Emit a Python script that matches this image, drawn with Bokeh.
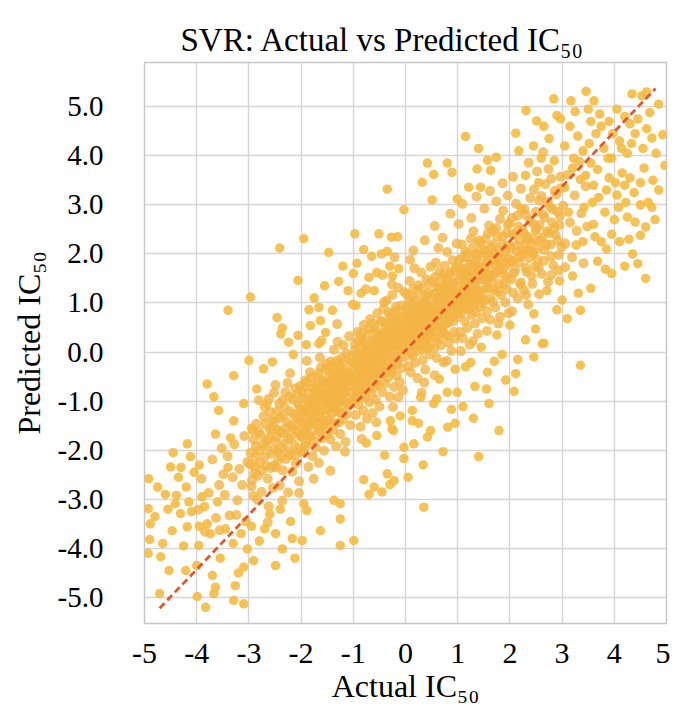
from bokeh.plotting import figure
from bokeh.models import Range1d, FixedTicker
from bokeh.embed import file_html
from bokeh.resources import INLINE

# ---------------- data ----------------
title_text = "SVR: Actual vs Predicted IC\u2085\u2080"
x_label = "Actual IC\u2085\u2080"
y_label = "Predicted IC\u2085\u2080"

x_ticks = [-5, -4, -3, -2, -1, 0, 1, 2, 3, 4, 5]
x_tick_labels = ["-5", "-4", "-3", "-2", "-1", "0", "1", "2", "3", "4", "5"]
y_ticks = [-5, -4, -3, -2, -1, 0, 1, 2, 3, 4, 5]
y_tick_labels = ["-5.0", "-4.0", "-3.0", "-2.0", "-1.0", "0.0", "1.0", "2.0", "3.0", "4.0", "5.0"]

# ideal-fit reference line (as drawn)
fit_x = [-4.71, 4.79]
fit_y = [-5.22, 5.37]

# dense band of points (actual, predicted)
core_points = [
    (-3.97, -3.21), (-3.91, -2.58), (-3.84, -3.66), (-3.77, -2.87), (-3.70, -2.19), (-3.63, -3.38), (-3.57, -2.71), (-3.52, -1.96),
    (-3.46, -2.91), (-3.41, -2.12), (-3.37, -3.33), (-3.31, -2.55), (-3.28, -1.88), (-3.22, -3.02), (-3.18, -2.38), (-3.13, -2.71),
    (-3.09, -1.71), (-3.06, -3.45), (-3.03, -2.24), (-3.49, -2.49),
    (-2.98, -2.29), (-2.95, -2.74), (-2.93, -1.59), (-2.90, -2.47), (-2.87, -1.92), (-2.84, -3.01), (-2.81, -1.63), (-2.79, -2.25),
    (-2.76, -2.85), (-2.73, -1.88), (-2.70, -1.12), (-2.67, -2.31), (-2.65, -1.79), (-2.62, -3.14), (-2.60, -1.56), (-2.58, -2.36),
    (-2.56, -1.39), (-2.54, -2.77), (-2.52, -0.83), (-2.51, -1.99), (-2.88, -2.13), (-2.69, -1.47),
    (-2.49, -1.82), (-2.48, -2.35), (-2.46, -1.21), (-2.45, -2.03), (-2.43, -1.58), (-2.41, -2.72), (-2.40, -1.34), (-2.38, -1.95),
    (-2.36, -0.98), (-2.35, -2.41), (-2.33, -1.66), (-2.31, -1.12), (-2.29, -2.18), (-2.27, -1.43), (-2.25, -2.86), (-2.24, -1.77),
    (-2.22, -0.91), (-2.20, -2.09), (-2.18, -1.52), (-2.17, -2.44), (-2.15, -1.26), (-2.13, -1.89), (-2.11, -0.74), (-2.10, -2.27),
    (-2.08, -1.61), (-2.06, -1.05), (-2.05, -1.98), (-2.04, -2.63), (-2.03, -1.35), (-2.02, -0.69), (-2.01, -1.72), (-2.26, -0.63),
    (-1.99, -1.44), (-1.98, -0.82), (-1.96, -2.05), (-1.95, -1.17), (-1.93, -1.63), (-1.92, -0.58), (-1.90, -1.91), (-1.89, -1.29),
    (-1.87, -0.97), (-1.86, -2.34), (-1.84, -1.48), (-1.83, -0.41), (-1.81, -1.72), (-1.80, -1.05), (-1.78, -2.12), (-1.77, -0.73),
    (-1.75, -1.36), (-1.74, -0.88), (-1.72, -1.94), (-1.71, -1.21), (-1.69, -0.52), (-1.68, -1.57), (-1.66, -2.26), (-1.65, -0.99),
    (-1.63, -1.33), (-1.62, -0.31), (-1.60, -1.76), (-1.59, -0.84), (-1.57, -1.18), (-1.56, -2.01), (-1.55, -0.62), (-1.54, -1.42),
    (-1.53, -0.95), (-1.52, -1.69), (-1.51, -0.24), (-1.97, -1.66), (-1.85, -1.12), (-1.70, -0.69), (-1.58, -1.49), (-1.64, -0.11),
    (-1.49, -0.86), (-1.48, -1.41), (-1.47, -0.33), (-1.46, -1.07), (-1.45, -0.61), (-1.44, -1.78), (-1.43, -0.19), (-1.42, -0.94),
    (-1.41, -1.25), (-1.40, -0.48), (-1.39, -1.59), (-1.38, -0.72), (-1.37, 0.05), (-1.36, -1.13), (-1.35, -0.39), (-1.34, -0.87),
    (-1.33, -1.92), (-1.32, -0.55), (-1.31, -1.21), (-1.30, 0.21), (-1.29, -0.78), (-1.28, -1.44), (-1.27, -0.27), (-1.26, -0.99),
    (-1.25, -1.67), (-1.24, -0.46), (-1.23, -0.12), (-1.22, -1.16), (-1.21, -0.65), (-1.20, -1.38), (-1.19, 0.14), (-1.18, -0.84),
    (-1.17, -0.36), (-1.16, -1.02), (-1.15, -1.83), (-1.14, -0.58), (-1.13, -0.03), (-1.12, -1.27), (-1.11, -0.71), (-1.10, -0.41),
    (-1.09, -1.05), (-1.08, 0.32), (-1.07, -0.53), (-1.06, -1.49), (-1.04, -0.22), (-1.02, -0.91),
    (-0.99, -0.37), (-0.98, -0.95), (-0.97, 0.16), (-0.96, -0.61), (-0.95, -1.28), (-0.94, -0.12), (-0.93, -0.79), (-0.92, 0.41),
    (-0.91, -0.44), (-0.90, -1.07), (-0.89, -0.23), (-0.88, 0.08), (-0.87, -0.68), (-0.86, -1.52), (-0.85, -0.31), (-0.84, 0.27),
    (-0.83, -0.86), (-0.82, -0.05), (-0.81, -1.19), (-0.80, 0.55), (-0.79, -0.47), (-0.78, -0.18), (-0.77, -0.93), (-0.76, 0.12),
    (-0.75, -0.64), (-0.74, -1.36), (-0.73, -0.28), (-0.72, 0.36), (-0.71, -0.76), (-0.70, -0.09), (-0.69, -1.02), (-0.68, 0.67),
    (-0.67, -0.39), (-0.66, -0.15), (-0.65, -0.83), (-0.64, 0.22), (-0.63, -1.24), (-0.62, -0.52), (-0.61, 0.03), (-0.60, -0.71),
    (-0.59, 0.48), (-0.58, -0.26), (-0.57, -0.97), (-0.56, 0.15), (-0.55, -0.43), (-0.54, 0.79), (-0.53, -0.12), (-0.52, -0.66),
    (-0.51, 0.31), (-0.50, -1.11),
    (-0.49, 0.12), (-0.48, -0.46), (-0.47, 0.63), (-0.46, -0.18), (-0.45, 0.35), (-0.44, -0.82), (-0.43, 0.04), (-0.42, 0.88),
    (-0.41, -0.31), (-0.40, 0.27), (-0.39, -0.64), (-0.38, 0.51), (-0.37, -0.07), (-0.36, 1.05), (-0.35, 0.19), (-0.34, -0.53),
    (-0.33, 0.42), (-0.32, -0.21), (-0.31, 0.74), (-0.30, -0.91), (-0.29, 0.09), (-0.28, 0.58), (-0.27, -0.36), (-0.26, 0.31),
    (-0.25, 1.17), (-0.24, -0.12), (-0.23, 0.47), (-0.22, -0.71), (-0.21, 0.16), (-0.20, 0.83), (-0.19, -0.27), (-0.18, 0.39),
    (-0.17, -0.48), (-0.16, 0.66), (-0.15, 0.02), (-0.14, 1.31), (-0.13, -0.15), (-0.12, 0.55), (-0.11, -0.61), (-0.10, 0.24),
    (-0.09, 0.95), (-0.08, -0.33), (-0.07, 0.43), (-0.06, 0.11), (-0.05, -0.78), (-0.04, 0.72), (-0.03, 0.29), (-0.02, 1.22),
    (-0.01, -0.09), (-0.26, 1.38), (-0.14, -0.92), (-0.41, 1.02),
    (0.01, 0.61), (0.02, 0.03), (0.03, 1.18), (0.04, 0.37), (0.05, -0.29), (0.06, 0.84), (0.07, 0.12), (0.08, 1.45),
    (0.09, 0.52), (0.10, -0.41), (0.11, 0.96), (0.12, 0.23), (0.13, 0.71), (0.14, -0.08), (0.15, 1.29), (0.16, 0.44),
    (0.17, 0.89), (0.18, -0.22), (0.19, 0.58), (0.20, 1.07), (0.21, 0.15), (0.22, 0.77), (0.23, -0.53), (0.24, 0.35),
    (0.25, 1.36), (0.26, 0.64), (0.27, 0.02), (0.28, 0.93), (0.29, 0.41), (0.30, 1.62), (0.31, 0.19), (0.32, 0.82),
    (0.33, -0.17), (0.34, 0.55), (0.35, 1.14), (0.36, 0.31), (0.37, 0.99), (0.38, -0.36), (0.39, 0.68), (0.40, 1.48),
    (0.41, 0.26), (0.42, 0.87), (0.43, 0.09), (0.44, 1.21), (0.45, 0.49), (0.46, -0.05), (0.47, 0.76), (0.48, 1.74),
    (0.49, 0.38), (0.17, 1.71), (0.36, -0.62), (0.09, 1.88),
    (0.51, 0.92), (0.52, 0.31), (0.53, 1.44), (0.54, 0.67), (0.55, 0.08), (0.56, 1.19), (0.57, 0.53), (0.58, 1.82),
    (0.59, 0.84), (0.60, -0.12), (0.61, 1.31), (0.62, 0.61), (0.63, 1.06), (0.64, 0.25), (0.65, 1.63), (0.66, 0.79),
    (0.67, 1.27), (0.68, 0.14), (0.69, 0.97), (0.70, 1.51), (0.71, 0.45), (0.72, 1.13), (0.73, -0.21), (0.74, 0.73),
    (0.75, 1.76), (0.76, 1.02), (0.77, 0.36), (0.78, 1.38), (0.79, 0.88), (0.80, 2.04), (0.81, 0.59), (0.82, 1.22),
    (0.83, 0.19), (0.84, 0.95), (0.85, 1.58), (0.86, 0.71), (0.87, 1.35), (0.88, 0.02), (0.89, 1.09), (0.90, 1.87),
    (0.91, 0.63), (0.92, 1.25), (0.93, 0.41), (0.94, 1.66), (0.95, 0.91), (0.96, 0.28), (0.97, 1.17), (0.98, 2.21),
    (0.99, 0.79), (0.63, 2.12),
    (1.01, 1.31), (1.02, 0.72), (1.03, 1.88), (1.04, 1.05), (1.05, 0.41), (1.06, 1.57), (1.07, 0.94), (1.08, 2.19),
    (1.09, 1.23), (1.10, 0.28), (1.11, 1.71), (1.12, 1.02), (1.13, 1.46), (1.14, 0.63), (1.15, 2.05), (1.16, 1.18),
    (1.17, 1.64), (1.18, 0.49), (1.19, 1.36), (1.20, 1.93), (1.21, 0.87), (1.22, 1.52), (1.23, 0.15), (1.24, 1.12),
    (1.25, 2.31), (1.26, 1.41), (1.27, 0.76), (1.28, 1.79), (1.29, 1.27), (1.30, 2.46), (1.31, 0.98), (1.32, 1.61),
    (1.33, 0.58), (1.34, 1.33), (1.35, 1.99), (1.36, 1.09), (1.37, 1.74), (1.38, 0.37), (1.39, 1.48), (1.40, 2.27),
    (1.42, 0.92), (1.43, 1.66), (1.45, 1.21), (1.46, 2.09), (1.47, 0.69), (1.49, 1.55),
    (1.51, 1.72), (1.52, 1.07), (1.53, 2.31), (1.55, 1.44), (1.56, 0.83), (1.57, 1.98), (1.58, 1.29), (1.60, 2.58),
    (1.61, 1.63), (1.62, 0.66), (1.63, 2.14), (1.65, 1.41), (1.66, 1.87), (1.67, 1.02), (1.68, 2.47), (1.70, 1.56),
    (1.71, 2.03), (1.72, 0.91), (1.73, 1.78), (1.75, 2.36), (1.76, 1.23), (1.77, 1.94), (1.78, 0.58), (1.80, 1.67),
    (1.81, 2.71), (1.82, 1.83), (1.83, 1.16), (1.85, 2.21), (1.86, 1.69), (1.87, 2.88), (1.88, 1.38), (1.90, 2.04),
    (1.91, 1.01), (1.92, 1.76), (1.93, 2.42), (1.95, 1.52), (1.96, 2.17), (1.97, 0.79), (1.98, 1.91), (1.99, 2.63),
    (2.01, 2.12), (2.03, 1.48), (2.04, 2.73), (2.06, 1.86), (2.07, 1.21), (2.09, 2.39), (2.10, 1.67), (2.12, 3.02),
    (2.13, 2.05), (2.15, 1.09), (2.16, 2.56), (2.18, 1.83), (2.19, 2.28), (2.21, 1.42), (2.22, 2.91), (2.24, 1.98),
    (2.26, 2.44), (2.27, 1.26), (2.29, 2.17), (2.31, 2.79), (2.32, 1.63), (2.34, 2.35), (2.35, 0.97), (2.37, 2.06),
    (2.39, 3.14), (2.40, 2.23), (2.42, 1.55), (2.44, 2.62), (2.45, 2.01), (2.46, 3.31), (2.48, 1.74), (2.49, 2.47),
    (2.51, 2.52), (2.53, 1.88), (2.56, 3.09), (2.58, 2.27), (2.61, 1.59), (2.63, 2.81), (2.66, 2.08), (2.68, 3.42),
    (2.71, 2.46), (2.73, 1.43), (2.76, 2.97), (2.78, 2.19), (2.81, 2.64), (2.83, 1.77), (2.86, 3.28), (2.88, 2.38),
    (2.91, 2.86), (2.93, 1.66), (2.95, 2.59), (2.97, 3.57), (2.99, 2.14), (2.74, 3.73),
    (3.02, 2.98), (3.06, 2.21), (3.11, 3.61), (3.15, 2.64), (3.19, 1.93), (3.24, 3.19), (3.28, 2.47), (3.33, 3.88),
    (3.37, 2.83), (3.41, 1.81), (3.45, 3.38), (3.48, 2.56),
    # inner, denser part of the band
    (-2.97, -2.05), (-2.94, -2.61), (-2.91, -1.78), (-2.89, -2.33), (-2.86, -1.46), (-2.83, -2.52), (-2.80, -2.01), (-2.78, -1.69),
    (-2.75, -2.42), (-2.72, -1.31), (-2.69, -2.12), (-2.66, -1.92), (-2.64, -2.58), (-2.61, -1.74), (-2.59, -1.22), (-2.57, -2.07),
    (-2.55, -1.58), (-2.53, -2.31), (-2.50, -1.41), (-2.47, -1.73), (-2.44, -2.21), (-2.42, -1.05), (-2.39, -1.62), (-2.37, -2.13),
    (-2.34, -1.29), (-2.32, -1.87), (-2.30, -0.82), (-2.28, -1.54), (-2.23, -2.03), (-2.21, -1.21), (-2.19, -1.71), (-2.16, -0.97),
    (-2.14, -1.48), (-2.12, -2.11), (-2.09, -1.33), (-2.07, -0.85), (-2.05, -1.64), (-2.03, -1.12), (-2.01, -2.01), (-2.62, -0.95),
    (-1.995, -1.18), (-1.98, -1.72), (-1.965, -0.93), (-1.95, -1.45), (-1.935, -0.71), (-1.92, -1.86), (-1.905, -1.21), (-1.89, -0.62),
    (-1.875, -1.53), (-1.86, -1.02), (-1.845, -0.83), (-1.83, -1.69), (-1.815, -1.26), (-1.80, -0.51), (-1.785, -1.39), (-1.77, -0.98),
    (-1.755, -1.81), (-1.74, -1.13), (-1.725, -0.66), (-1.71, -1.47), (-1.695, -0.87), (-1.68, -1.21), (-1.665, -0.43), (-1.65, -1.63),
    (-1.635, -1.04), (-1.62, -0.75), (-1.605, -1.36), (-1.59, -0.58), (-1.575, -0.97), (-1.56, -1.52), (-1.545, -0.82), (-1.53, -0.35),
    (-1.515, -1.19), (-1.50, -0.69), (-1.485, -1.04), (-1.47, -0.51), (-1.455, -1.37), (-1.44, -0.79), (-1.425, -0.28), (-1.41, -1.12),
    (-1.395, -0.62), (-1.38, -0.93), (-1.365, -1.46), (-1.35, -0.47), (-1.335, -0.76), (-1.32, -0.18), (-1.305, -1.03), (-1.29, -0.59),
    (-1.275, -0.88), (-1.26, -0.31), (-1.245, -1.24), (-1.23, -0.69), (-1.215, -0.42), (-1.20, -0.95), (-1.17, -0.17), (-1.14, -0.81),
    (-1.11, -0.48), (-1.08, -1.08), (-1.05, -0.63), (-1.03, -0.08),
    (-0.995, -0.21), (-0.98, -0.72), (-0.965, 0.05), (-0.95, -0.48), (-0.935, -0.96), (-0.92, -0.27), (-0.905, 0.24), (-0.89, -0.58),
    (-0.875, -0.11), (-0.86, -0.82), (-0.845, 0.38), (-0.83, -0.39), (-0.815, -0.03), (-0.80, -0.63), (-0.785, 0.19), (-0.77, -0.29),
    (-0.755, -0.77), (-0.74, 0.02), (-0.725, -0.47), (-0.71, 0.47), (-0.695, -0.18), (-0.68, -0.56), (-0.665, 0.11), (-0.65, -0.31),
    (-0.635, 0.58), (-0.62, -0.08), (-0.605, -0.46), (-0.59, 0.26), (-0.575, -0.21), (-0.56, -0.62), (-0.545, 0.41), (-0.53, -0.02),
    (-0.515, 0.17), (-0.50, -0.38), (-0.485, 0.33), (-0.47, -0.14), (-0.455, 0.62), (-0.44, 0.07), (-0.425, -0.45), (-0.41, 0.39),
    (-0.395, -0.02), (-0.38, 0.21), (-0.365, -0.34), (-0.35, 0.57), (-0.335, 0.08), (-0.32, 0.81), (-0.305, -0.16), (-0.29, 0.36),
    (-0.275, 0.12), (-0.26, -0.41), (-0.245, 0.68), (-0.23, 0.25), (-0.215, -0.08), (-0.20, 0.49), (-0.185, 0.92), (-0.17, 0.15),
    (-0.155, -0.22), (-0.14, 0.61), (-0.125, 0.33), (-0.11, 0.82), (-0.095, 0.04), (-0.08, 0.45), (-0.05, 0.26), (-0.025, 0.68),
    (0.005, 0.41), (0.02, 0.89), (0.035, 0.17), (0.05, 0.63), (0.065, 1.04), (0.08, 0.28), (0.095, 0.75), (0.11, -0.03),
    (0.125, 0.52), (0.14, 1.12), (0.155, 0.34), (0.17, 0.69), (0.185, 0.11), (0.20, 0.84), (0.215, 0.47), (0.23, 1.26),
    (0.245, 0.62), (0.26, 0.21), (0.275, 0.96), (0.29, 0.55), (0.305, 1.31), (0.32, 0.39), (0.335, 0.78), (0.35, 0.07),
    (0.365, 1.02), (0.38, 0.61), (0.395, 0.27), (0.41, 1.15), (0.425, 0.72), (0.44, 0.44), (0.455, 1.39), (0.47, 0.91),
    (0.485, 0.15), (0.50, 0.68), (0.515, 1.09), (0.53, 0.48), (0.545, 0.86), (0.56, 1.53), (0.575, 0.71), (0.59, 0.29),
    (0.605, 1.12), (0.62, 0.83), (0.635, 0.51), (0.65, 1.34), (0.665, 0.97), (0.68, 0.42), (0.695, 1.21), (0.71, 0.76),
    (0.725, 1.58), (0.74, 1.03), (0.755, 0.57), (0.77, 1.29), (0.785, 0.89), (0.80, 0.33), (0.815, 1.44), (0.83, 1.08),
    (0.845, 0.67), (0.86, 1.62), (0.875, 1.19), (0.89, 0.82), (0.92, 1.41), (0.945, 0.98), (0.965, 1.73), (0.985, 1.13),
    (1.005, 1.47), (1.02, 0.98), (1.035, 1.72), (1.05, 1.21), (1.065, 0.79), (1.08, 1.56), (1.095, 1.09), (1.11, 1.93),
    (1.125, 1.34), (1.14, 0.88), (1.155, 1.62), (1.17, 1.17), (1.185, 2.01), (1.20, 1.42), (1.215, 0.95), (1.23, 1.79),
    (1.245, 1.28), (1.26, 1.61), (1.275, 1.04), (1.29, 2.12), (1.305, 1.51), (1.32, 1.19), (1.335, 1.83), (1.35, 0.81),
    (1.365, 1.57), (1.38, 1.98), (1.395, 1.26), (1.41, 1.71), (1.425, 1.11), (1.44, 2.23), (1.455, 1.48), (1.47, 1.87),
    (1.485, 0.99), (1.50, 1.63), (1.52, 2.07), (1.54, 1.31), (1.56, 1.79), (1.58, 2.42), (1.60, 1.52), (1.62, 1.09),
    (1.64, 1.94), (1.66, 1.58), (1.68, 2.19), (1.70, 1.27), (1.72, 1.81), (1.74, 2.53), (1.76, 1.64), (1.78, 2.08),
    (1.80, 1.39), (1.83, 1.92), (1.86, 2.36), (1.89, 1.57), (1.92, 2.11), (1.94, 1.28), (1.96, 2.59), (1.985, 1.84),
    (2.02, 1.83), (2.05, 2.41), (2.08, 1.61), (2.11, 2.17), (2.14, 2.78), (2.17, 1.94), (2.20, 1.38), (2.23, 2.49),
    (2.25, 2.08), (2.28, 2.91), (2.30, 1.72), (2.33, 2.31), (2.36, 1.91), (2.38, 2.68), (2.41, 2.04), (2.43, 1.39),
    (2.47, 2.29), (2.50, 2.86), (2.52, 2.11), (2.55, 1.72), (2.57, 2.59), (2.60, 3.18), (2.62, 2.33), (2.65, 1.86),
    (2.67, 2.74), (2.70, 2.19), (2.72, 3.06), (2.75, 2.42), (2.79, 1.95), (2.82, 2.91), (2.85, 2.53), (2.89, 3.21),
    (2.92, 2.27), (2.94, 1.98), (2.96, 2.78), (2.98, 3.34),
    # halo around the band
    (0.15, 2.07), (0.37, 2.28), (0.56, 2.57), (0.71, 2.33), (0.86, 2.82), (1.02, 2.61), (1.09, 3.02), (1.26, 2.73),
    (1.36, 3.17), (1.51, 2.92), (1.62, 3.28), (1.74, 3.07), (1.86, 3.44), (1.96, 3.19), (2.06, 3.57), (2.21, 3.33),
    (2.36, 3.86), (2.52, 3.68), (2.64, 4.07), (2.79, 3.53), (-0.21, 1.93), (-0.44, 1.57), (-0.76, 1.28), (-1.01, 0.97),
    (-1.31, 0.57), (-1.61, 0.23), (-1.89, -0.18), (-2.21, -0.43), (-2.49, -0.67), (-2.81, -0.98),
    (0.31, -0.83), (0.56, -0.47), (0.79, -0.18), (1.06, 0.02), (1.29, 0.22), (1.56, 0.43), (1.81, 0.72), (2.04, 0.83),
    (2.31, 1.17), (2.56, 1.18), (2.79, 1.57), (3.06, 1.73), (-0.24, -1.12), (-0.56, -1.43), (-0.84, -1.77), (-1.16, -2.03),
    (-1.44, -2.42), (-1.76, -2.58), (-2.04, -2.87), (-2.36, -3.03), (-2.64, -3.47), (-2.91, -2.93), (-3.24, -3.32), (-3.56, -3.63),
]

# scattered points away from the band (actual, predicted)
outer_points = [
    (-0.35, 3.32), (-0.97, 2.41), (-0.51, 2.41), (-0.27, 2.34), (-1.95, 2.31), (-2.41, 2.12), (-1.47, 2.03), (-0.80, 2.09),
    (-0.46, 2.00), (-0.93, 1.81), (-2.06, 1.46), (-1.28, 1.44), (-2.97, 1.12), (-3.40, 0.85), (-2.46, 0.70), (-2.36, 0.49),
    (-2.39, 0.37), (-2.24, 0.20), (-2.06, 0.34), (-1.85, 0.86), (-1.66, 0.91), (-1.82, 0.54), (-1.63, 0.64), (-1.53, 0.40),
    (-1.66, 0.17), (-1.00, 1.60), (-0.70, 1.52), (-0.55, 1.62), (-0.25, 1.55), (-0.13, 1.70), (-1.10, 1.25), (-0.85, 1.20),
    (3.46, 5.31), (2.84, 5.16), (3.17, 5.12), (3.61, 5.12), (4.34, 5.26), (4.53, 5.22), (2.31, 4.92), (2.51, 4.71),
    (2.90, 4.82), (2.97, 4.75), (3.50, 4.95), (3.72, 4.85), (3.90, 4.70), (4.05, 4.95), (4.20, 4.80), (4.30, 4.65),
    (4.68, 4.88), (4.93, 4.43), (4.97, 3.80), (4.72, 4.36), (1.15, 4.39), (1.40, 4.15), (2.11, 4.46), (2.17, 4.10),
    (1.74, 3.97), (1.57, 3.91), (0.42, 3.85), (0.80, 3.85), (0.54, 3.62), (0.89, 3.66), (0.32, 3.46), (0.51, 3.10),
    (-0.03, 2.90), (0.99, 3.12), (1.21, 3.36), (1.44, 3.36), (1.37, 3.73), (1.63, 3.70), (4.30, 3.55), (4.50, 3.45),
    (4.74, 3.50), (4.20, 3.40), (4.50, 3.00), (4.65, 3.05), (4.72, 2.95), (4.25, 2.75), (4.40, 2.65), (4.60, 2.55),
    (4.50, 2.38), (4.28, 2.30), (4.20, 1.75), (4.45, 1.80), (4.60, 1.50), (3.83, 1.69), (3.55, 1.30), (3.31, 1.20),
    (3.35, 0.85), (3.10, 0.68), (2.90, 0.86), (3.00, 1.06), (2.71, 1.25), (2.46, 0.78), (2.49, 0.47), (2.65, 0.18),
    (3.60, 2.60), (3.75, 2.25), (3.95, 2.40), (3.85, 2.10), (4.00, 2.70), (3.60, 3.40), (3.85, 3.30), (3.70, 3.15),
    (4.05, 3.20), (3.30, 4.40), (3.40, 4.10), (3.55, 3.85), (3.65, 4.45), (3.80, 4.15), (3.95, 3.95), (4.10, 4.30),
    (4.25, 4.05), (4.40, 4.45), (4.55, 4.15), (3.20, 3.75), (3.05, 4.20), (2.75, 4.35), (2.60, 3.95), (3.15, 4.60),
    (4.15, 3.65), (3.90, 3.55), (3.45, 3.60), (2.45, 4.20), (2.85, 3.90),
    (3.05, 3.35), (3.12, 2.85), (3.22, 3.95), (3.27, 2.18), (3.35, 3.52), (3.42, 2.95), (3.52, 4.25), (3.58, 3.05),
    (3.63, 2.35), (3.68, 3.72), (3.75, 4.60), (3.82, 2.85), (3.88, 3.95), (3.97, 4.45), (4.02, 3.45), (4.08, 2.95),
    (4.14, 4.15), (4.22, 3.05), (4.33, 4.25), (4.38, 3.25), (4.45, 4.75), (4.57, 3.75), (4.62, 4.55), (4.80, 4.05),
    (4.85, 3.30), (4.78, 2.70), (4.35, 2.00), (4.10, 2.25), (3.95, 1.60), (3.68, 1.85), (3.40, 2.25), (3.20, 1.55),
    (2.95, 1.45), (3.55, 4.70), (3.25, 4.90), (2.65, 4.60), (4.85, 5.05), (4.62, 5.30), (2.30, 3.60), (2.55, 3.45),
    (3.35, -0.27), (2.62, 0.17), (2.46, -0.10), (2.11, -0.44), (1.92, -0.57), (2.08, -0.80), (1.70, -0.19), (1.57, -0.41),
    (1.33, -0.70), (1.25, -0.21), (1.79, -1.60), (1.40, -2.13), (0.35, -3.16), (0.81, -1.53), (0.72, -2.03), (0.34, -2.30),
    (1.10, -1.11), (0.88, -1.17), (0.48, -1.60), (0.42, -1.73), (-0.03, -1.94), (-0.03, -2.17), (-0.35, -2.48), (-0.22, -2.62),
    (-0.26, -1.56), (0.16, -1.87), (0.13, -1.40), (0.13, -1.19), (0.99, -0.82), (0.80, -0.82), (0.54, -1.05), (0.29, -0.92),
    (-0.55, -1.70), (-0.40, -2.10), (-0.10, -1.30), (0.25, -1.45), (0.60, -0.95), (0.95, -1.45), (1.30, -1.35), (0.05, -2.55),
    (-0.75, -1.85), (1.60, -1.05),
    (-4.92, -2.58), (-4.93, -3.19), (-4.89, -3.50), (-4.90, -3.82), (-4.93, -4.10), (-4.71, -4.92), (-4.50, -2.34), (-4.18, -1.87),
    (-4.12, -2.13), (-4.39, -2.92), (-4.41, -3.09), (-4.31, -3.29), (-4.47, -3.64), (-4.69, -4.17), (-4.53, -4.45), (-4.21, -4.45),
    (-3.99, -4.98), (-3.83, -5.20), (-3.67, -4.92), (-3.64, -4.79), (-3.29, -5.06), (-3.10, -5.13), (-3.26, -4.76), (-3.80, -0.65),
    (-3.67, -0.91), (-3.29, -0.48), (-3.00, -0.17), (-3.58, -1.19), (-3.64, -1.67), (-3.29, -1.40), (-2.72, -0.34), (-4.18, -3.56),
    (-3.96, -3.94), (-3.74, -3.70), (-3.80, -3.50), (-3.03, -4.01), (-2.91, -4.25), (-3.10, -4.38), (-2.49, -4.35), (-2.12, -4.20),
    (-2.36, -4.01), (-1.63, -3.64), (-1.25, -3.94), (-1.25, -3.40), (-1.98, -3.84), (-2.17, -3.80), (-2.49, -3.70), (-1.89, -3.23),
    (-1.95, -3.09), (-1.37, -3.02), (-1.25, -3.09), (-0.99, -3.84), (-0.80, -2.60), (-0.60, -2.75), (-0.45, -2.85), (-0.30, -2.70),
    (-0.70, -2.90), (-0.23, -1.60), (-0.29, -1.40),
    (-4.60, -2.90), (-4.35, -2.55), (-4.05, -2.45), (-3.90, -2.95), (-4.10, -3.25), (-3.85, -3.15), (-3.60, -3.05), (-3.45, -3.60),
    (-3.30, -3.90), (-3.55, -4.20), (-3.20, -4.50), (-2.95, -3.55), (-2.80, -3.85), (-2.60, -3.30), (-4.25, -3.95), (-4.00, -4.35),
    (-3.70, -4.55), (-4.45, -2.05), (-4.20, -2.75), (-3.95, -2.30), (-2.70, -3.60), (-2.40, -3.20), (-2.20, -3.45), (-3.40, -2.35),
    (-3.15, -3.70), (-4.75, -2.75), (-4.80, -3.35), (-4.55, -3.20), (-4.65, -3.90), (-4.30, -2.35), (-4.15, -3.05), (-3.95, -3.55),
    (1.15, -0.30), (1.45, 0.10), (1.75, 0.35), (2.00, 0.55), (2.30, 0.25), (1.55, -0.75), (0.65, -0.55), (0.95, -0.35),
    (2.15, -0.15), (1.85, -0.05),
    (-2.85, -0.75), (-2.55, -0.20), (-2.15, -0.05), (-1.90, 0.15), (-2.65, -1.05), (-3.10, -1.05), (-2.95, -1.55), (-3.35, -1.75),
    (-1.75, 1.10), (-1.40, 0.85), (-1.20, 1.75), (-0.65, 1.95), (-0.35, 2.05), (-0.15, 2.35), (-1.55, 1.35), (-0.95, 0.95),
    (-0.60, 1.25), (-0.30, 1.75),
]

core_actual = [p[0] for p in core_points]
core_predicted = [p[1] for p in core_points]
outer_actual = [p[0] for p in outer_points]
outer_predicted = [p[1] for p in outer_points]

# ---------------- figure ----------------
FONT = "Liberation Serif"

p = figure(frame_width=522, frame_height=561,
           x_range=Range1d(-5, 5), y_range=Range1d(-5.53, 5.9),
           output_backend="svg", toolbar_location=None,
           min_border_left=144, min_border_right=4,
           min_border_top=62, min_border_bottom=90)

p.background_fill_color = "white"
p.border_fill_color = "white"
p.outline_line_color = "#c6c6c6"
p.outline_line_width = 1.5

p.title.text = title_text
p.title.text_font = FONT
p.title.text_font_size = "33px"
p.title.text_font_style = "normal"
p.title.text_color = "black"
p.title.align = "left"
p.title.offset = 36

p.xgrid.grid_line_color = "#d5d5d5"
p.ygrid.grid_line_color = "#d5d5d5"
p.xgrid.grid_line_width = 1.4
p.ygrid.grid_line_width = 1.4

p.xaxis.ticker = FixedTicker(ticks=x_ticks)
p.yaxis.ticker = FixedTicker(ticks=y_ticks)
p.xaxis.major_label_overrides = dict(zip(x_ticks, x_tick_labels))
p.yaxis.major_label_overrides = dict(zip(y_ticks, y_tick_labels))

for ax in (p.xaxis[0], p.yaxis[0]):
    ax.axis_line_color = None
    ax.major_tick_line_color = None
    ax.minor_tick_line_color = None
    ax.major_label_text_font = FONT
    ax.major_label_text_color = "black"
    ax.axis_label_text_font = FONT
    ax.axis_label_text_font_style = "normal"
    ax.axis_label_text_color = "black"
    ax.axis_label_text_font_size = "32px"

p.xaxis.axis_label = x_label
p.yaxis.axis_label = y_label
p.xaxis.major_label_text_font_size = "30px"
p.yaxis.major_label_text_font_size = "29px"
p.xaxis.major_label_standoff = 14
p.yaxis.major_label_standoff = 35
p.xaxis.axis_label_standoff = 2
p.yaxis.axis_label_standoff = 8

p.scatter(core_actual, core_predicted, size=10, fill_color="#f2b443",
          fill_alpha=0.8, line_color=None)
p.scatter(outer_actual, outer_predicted, size=9.5, fill_color="#f5bb40",
          fill_alpha=0.9, line_color=None)
p.line(fit_x, fit_y, line_color="#e4572a", line_width=2.8, line_dash="7 4")

open("out.html", "w").write(file_html(p, INLINE))
